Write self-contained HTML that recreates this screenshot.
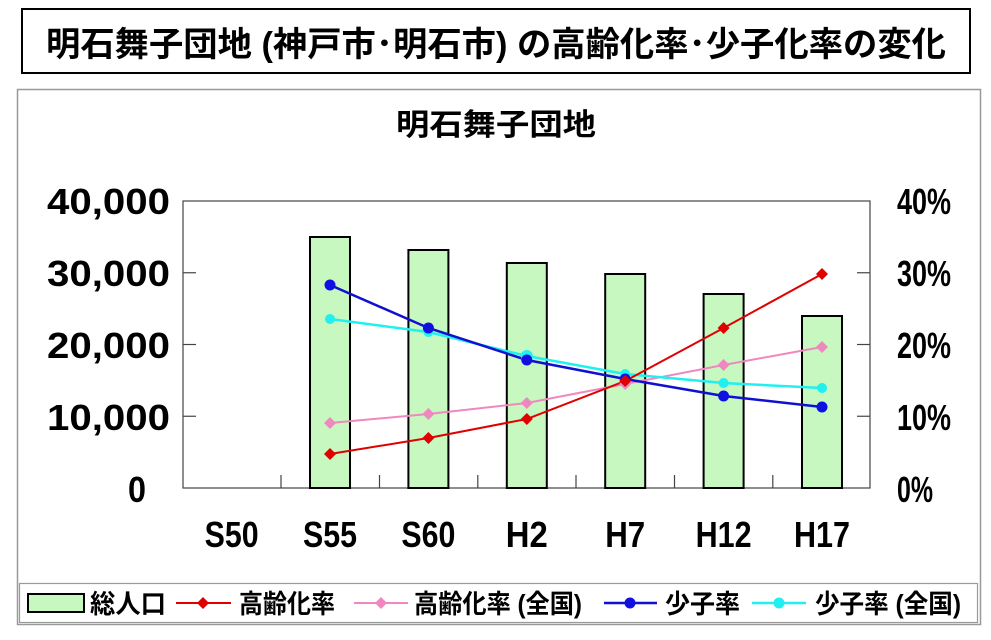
<!DOCTYPE html>
<html><head><meta charset="utf-8"><style>
html,body{margin:0;padding:0;background:#fff;width:991px;height:640px;overflow:hidden}
svg text{font-family:"Liberation Sans","Noto Sans CJK JP",sans-serif;font-weight:bold;fill:#000}
</style></head><body>
<svg width="991" height="640" viewBox="0 0 991 640" xmlns="http://www.w3.org/2000/svg">
<rect x="0" y="0" width="991" height="640" fill="#fff"/>
<rect x="22" y="9" width="948" height="64" fill="#fff" stroke="#000" stroke-width="2"/>
<text x="496" y="56" font-size="34" text-anchor="middle" textLength="900" lengthAdjust="spacingAndGlyphs">明石舞子団地 (神戸市･明石市) の高齢化率･少子化率の変化</text>
<rect x="17.5" y="89.5" width="963" height="535" fill="#fff" stroke="#999" stroke-width="1.5"/>
<text x="496" y="135" font-size="30" text-anchor="middle" textLength="200" lengthAdjust="spacingAndGlyphs">明石舞子団地</text>
<g stroke="#444" stroke-width="1.2" fill="none">
<rect x="183" y="201" width="687" height="287"/>
<line x1="183" y1="272.75" x2="196" y2="272.75"/><line x1="183" y1="344.5" x2="196" y2="344.5"/><line x1="183" y1="416.25" x2="196" y2="416.25"/>
<line x1="857" y1="272.75" x2="870" y2="272.75"/><line x1="857" y1="344.5" x2="870" y2="344.5"/><line x1="857" y1="416.25" x2="870" y2="416.25"/>
<line x1="281" y1="475" x2="281" y2="488"/><line x1="379.5" y1="475" x2="379.5" y2="488"/><line x1="477.8" y1="475" x2="477.8" y2="488"/><line x1="576" y1="475" x2="576" y2="488"/><line x1="674.5" y1="475" x2="674.5" y2="488"/><line x1="772.8" y1="475" x2="772.8" y2="488"/>
</g>
<g fill="#c6f8c0" stroke="#000" stroke-width="2">
<rect x="310" y="237" width="40" height="251"/>
<rect x="408.4" y="250" width="40" height="238"/>
<rect x="506.8" y="263" width="40" height="225"/>
<rect x="605.2" y="274" width="40" height="214"/>
<rect x="703.6" y="294" width="40" height="194"/>
<rect x="802" y="316" width="40" height="172"/>
</g>
<polyline points="330,423 428.4,414 526.8,403 625.2,384 723.6,365 822,347" fill="none" stroke="#f088c0" stroke-width="2"/>
<polyline points="330,319 428.4,332 526.8,356 625.2,374 723.6,383 822,388" fill="none" stroke="#20f0f0" stroke-width="2.5"/>
<polyline points="330,285 428.4,328 526.8,360 625.2,379 723.6,396 822,407" fill="none" stroke="#1010d0" stroke-width="2.5"/>
<polyline points="330,454 428.4,438 526.8,419 625.2,381 723.6,328 822,274" fill="none" stroke="#e00000" stroke-width="2"/>
<g fill="#f088c0"><path d="M330 417l6 6-6 6-6-6z"/><path d="M428.4 408l6 6-6 6-6-6z"/><path d="M526.8 397l6 6-6 6-6-6z"/><path d="M625.2 378l6 6-6 6-6-6z"/><path d="M723.6 359l6 6-6 6-6-6z"/><path d="M822 341l6 6-6 6-6-6z"/></g>
<g fill="#20f0f0"><circle cx="330" cy="319" r="5"/><circle cx="428.4" cy="332" r="5"/><circle cx="526.8" cy="356" r="6"/><circle cx="625.2" cy="374" r="5"/><circle cx="723.6" cy="383" r="5"/><circle cx="822" cy="388" r="5"/></g>
<g fill="#1010e0"><circle cx="330" cy="285" r="5.5"/><circle cx="428.4" cy="328" r="5.5"/><circle cx="526.8" cy="360" r="5.5"/><circle cx="625.2" cy="379" r="5.5"/><circle cx="723.6" cy="396" r="5.5"/><circle cx="822" cy="407" r="5.5"/></g>
<g fill="#e00000"><path d="M330 448l6 6-6 6-6-6z"/><path d="M428.4 432l6 6-6 6-6-6z"/><path d="M526.8 413l6 6-6 6-6-6z"/><path d="M625.2 375l6 6-6 6-6-6z"/><path d="M723.6 322l6 6-6 6-6-6z"/><path d="M822 268l6 6-6 6-6-6z"/></g>
<g font-size="36" text-anchor="end">
<text x="170" y="214" textLength="123" lengthAdjust="spacingAndGlyphs">40,000</text>
<text x="170" y="286" textLength="123" lengthAdjust="spacingAndGlyphs">30,000</text>
<text x="170" y="358" textLength="123" lengthAdjust="spacingAndGlyphs">20,000</text>
<text x="170" y="430" textLength="123" lengthAdjust="spacingAndGlyphs">10,000</text>
<text x="146" y="502" textLength="18" lengthAdjust="spacingAndGlyphs">0</text>
</g>
<g font-size="36">
<text x="897" y="214" textLength="54" lengthAdjust="spacingAndGlyphs">40%</text>
<text x="897" y="286" textLength="54" lengthAdjust="spacingAndGlyphs">30%</text>
<text x="897" y="358" textLength="54" lengthAdjust="spacingAndGlyphs">20%</text>
<text x="897" y="430" textLength="54" lengthAdjust="spacingAndGlyphs">10%</text>
<text x="897" y="502" textLength="36" lengthAdjust="spacingAndGlyphs">0%</text>
</g>
<g font-size="36" text-anchor="middle">
<text x="231.6" y="547" textLength="54" lengthAdjust="spacingAndGlyphs">S50</text>
<text x="330" y="547" textLength="54" lengthAdjust="spacingAndGlyphs">S55</text>
<text x="428.4" y="547" textLength="54" lengthAdjust="spacingAndGlyphs">S60</text>
<text x="526.8" y="547" textLength="42" lengthAdjust="spacingAndGlyphs">H2</text>
<text x="625.2" y="547" textLength="40" lengthAdjust="spacingAndGlyphs">H7</text>
<text x="723.6" y="547" textLength="56" lengthAdjust="spacingAndGlyphs">H12</text>
<text x="822" y="547" textLength="56" lengthAdjust="spacingAndGlyphs">H17</text>
</g>
<rect x="19.5" y="583.5" width="958" height="39" fill="#fff" stroke="#999" stroke-width="1.2"/>
<rect x="28" y="594" width="56" height="18" fill="#c6f8c0" stroke="#000" stroke-width="2"/>
<g font-size="26">
<text x="90" y="613" textLength="76" lengthAdjust="spacingAndGlyphs">総人口</text>
<text x="239" y="613" textLength="96" lengthAdjust="spacingAndGlyphs">高齢化率</text>
<text x="414" y="613" textLength="168" lengthAdjust="spacingAndGlyphs">高齢化率 (全国)</text>
<text x="665" y="613" textLength="75" lengthAdjust="spacingAndGlyphs">少子率</text>
<text x="815" y="613" textLength="146" lengthAdjust="spacingAndGlyphs">少子率 (全国)</text>
</g>
<line x1="176" y1="603" x2="231" y2="603" stroke="#e00000" stroke-width="2"/><path d="M203 597l6 6-6 6-6-6z" fill="#e00000"/>
<line x1="354" y1="603" x2="408" y2="603" stroke="#f088c0" stroke-width="2"/><path d="M381 597l6 6-6 6-6-6z" fill="#f088c0"/>
<line x1="604" y1="603" x2="657" y2="603" stroke="#1010d0" stroke-width="2.5"/><circle cx="630" cy="603" r="5.5" fill="#1010e0"/>
<line x1="752" y1="603" x2="806" y2="603" stroke="#20f0f0" stroke-width="2.5"/><circle cx="779" cy="603" r="5.5" fill="#20f0f0"/>
</svg>
</body></html>
